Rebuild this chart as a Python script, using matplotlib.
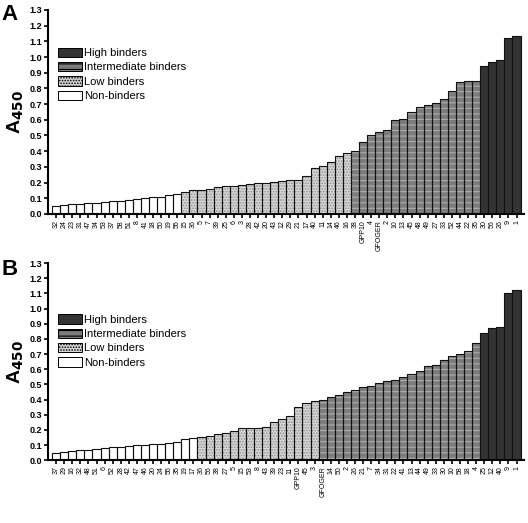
import numpy as np
import matplotlib
matplotlib.use("Agg")
import matplotlib.pyplot as plt
from matplotlib.patches import Patch

plt.rcParams["font.family"] = ["Liberation Sans", "DejaVu Sans"]
plt.rcParams["hatch.linewidth"] = 0.8

# ---- DATA: panel A ---- #
labels_a = ["32", "24", "23", "31", "47", "34", "53", "37", "58", "51", "8", "41", "18", "50", "19", "55", "15",
            "36", "5", "7", "39", "25", "6", "3", "28", "42", "20", "43", "12", "29", "21", "17", "40", "11", "14",
            "46", "16", "38", "GPP10", "4", "GFOGER", "2", "10", "13", "45", "48", "49", "27", "33", "52",
            "44", "22", "35", "30", "56", "26", "9", "1"]
non_a = [0.05, 0.055, 0.06, 0.065, 0.07, 0.07, 0.075, 0.08, 0.085, 0.09, 0.095, 0.10, 0.105, 0.11, 0.12, 0.13]
low_a = [0.14, 0.15, 0.155, 0.16, 0.17, 0.175, 0.18, 0.185, 0.19, 0.195, 0.20, 0.205, 0.21, 0.213, 0.216,
         0.239, 0.29, 0.308, 0.331, 0.37, 0.389]
mid_a = [0.404, 0.459, 0.50, 0.524, 0.532, 0.598, 0.603, 0.647, 0.679, 0.697, 0.71, 0.731, 0.782, 0.84, 0.846,
         0.846]
high_a = [0.944, 0.966, 0.981, 1.12, 1.137]

# ---- DATA: panel B ---- #
labels_b = ["37", "29", "16", "32", "48", "51", "6", "52", "28", "42", "47", "46", "20", "24", "55", "35", "19",
            "17", "36", "56", "38", "27", "5", "15", "53", "8", "43", "39", "23", "11", "GPP10", "45", "3",
            "GFOGER", "14", "50", "2", "26", "21", "7", "34", "31", "22", "41", "13", "44", "49", "33", "30",
            "10", "58", "18", "4", "25", "12", "40", "9", "1"]
non_b = [0.05, 0.055, 0.06, 0.065, 0.07, 0.075, 0.08, 0.085, 0.09, 0.095, 0.10, 0.10, 0.105, 0.11, 0.115, 0.12,
         0.14, 0.145]
low_b = [0.15, 0.16, 0.17, 0.18, 0.19, 0.21, 0.21, 0.21, 0.22, 0.25, 0.27, 0.29, 0.35, 0.38, 0.39]
mid_b = [0.40, 0.42, 0.43, 0.45, 0.46, 0.48, 0.49, 0.51, 0.52, 0.53, 0.55, 0.57, 0.59, 0.62, 0.63, 0.66, 0.69,
         0.70, 0.72, 0.77]
high_b = [0.84, 0.87, 0.88, 1.10, 1.12]

categories = ["High binders", "Intermediate binders", "Low binders", "Non-binders"]

# fill, hatch, hatch colour per category
styles = {
    "Non-binders": ("white", None, "white"),
    "Low binders": ("#d8d8d8", "......", "#8c8c8c"),
    "Intermediate binders": ("#7c7c7c", "---", "#b0b0b0"),
    "High binders": ("#333333", None, "#333333"),
}


def draw_panel(ax, labels, groups, legend_anchor):
    start = 0
    for name, vals in groups:
        x = np.arange(start, start + len(vals))
        fc, hatch, hc = styles[name]
        ax.bar(x, vals, width=1.0, color=fc, hatch=hatch, edgecolor=hc, linewidth=0)
        ax.bar(x, vals, width=1.0, fill=False, edgecolor="#111111", linewidth=0.8)
        start += len(vals)
    ax.set_xlim(-1.0, len(labels) - 0.1)
    ax.set_ylim(0, 1.3)
    ax.set_yticks(np.arange(0, 1.31, 0.1))
    ax.set_yticklabels([f"{v:.1f}" for v in np.arange(0, 1.31, 0.1)], fontsize=6.5, fontweight="bold")
    ax.set_xticks(np.arange(len(labels)))
    ax.set_xticklabels(labels, rotation=90, fontsize=5)
    ax.tick_params(axis="both", direction="out", width=1.2, length=3, pad=1.5)
    for s in ["top", "right"]:
        ax.spines[s].set_visible(False)
    for s in ["left", "bottom"]:
        ax.spines[s].set_linewidth(1.5)
    ax.set_ylabel("A$_{\\mathbf{450}}$", fontsize=14, fontweight="bold")
    ax.yaxis.set_label_coords(-0.046, 0.5)

    handles = []
    for name in categories:
        fc, hatch, hc = styles[name]
        handles.append(Patch(facecolor=fc, hatch=hatch, edgecolor="black", linewidth=0.7))
    ax.legend(handles, categories, loc="upper left", bbox_to_anchor=legend_anchor, frameon=False,
              fontsize=8, handlelength=2.2, handleheight=0.9, handletextpad=0.2, labelspacing=0.35,
              borderaxespad=0, borderpad=0)


fig = plt.figure(figsize=(5.28, 5.23), dpi=100)
ax_a = fig.add_axes([0.091, 0.591, 0.901, 0.390])
ax_b = fig.add_axes([0.091, 0.120, 0.901, 0.377])

draw_panel(ax_a, labels_a, [("Non-binders", non_a), ("Low binders", low_a),
                            ("Intermediate binders", mid_a), ("High binders", high_a)], (0.02, 0.815))
draw_panel(ax_b, labels_b, [("Non-binders", non_b), ("Low binders", low_b),
                            ("Intermediate binders", mid_b), ("High binders", high_b)], (0.02, 0.74))

fig.text(0.002, 0.992, "A", fontsize=16, fontweight="bold", va="top", ha="left")
fig.text(0.002, 0.505, "B", fontsize=16, fontweight="bold", va="top", ha="left")

fig.savefig("out.png", dpi=100)
